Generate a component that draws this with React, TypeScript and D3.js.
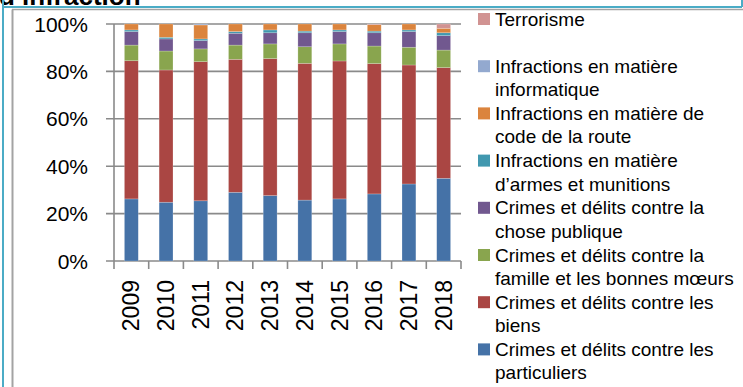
import React from "react";
import * as d3 from "d3";

// Years on the x axis
const years = ["2009", "2010", "2011", "2012", "2013", "2014", "2015", "2016", "2017", "2018"];

// Series names, bottom of the stack first
const seriesNames = [
  "Crimes et délits contre les particuliers",
  "Crimes et délits contre les biens",
  "Crimes et délits contre la famille et les bonnes mœurs",
  "Crimes et délits contre la chose publique",
  "Infractions en matière d’armes et munitions",
  "Infractions en matière de code de la route",
  "Infractions en matière informatique",
  "Terrorisme",
];

// Share of each category per year (%)
const particuliers = [26.2, 24.8, 25.4, 29.0, 27.6, 25.7, 26.2, 28.3, 32.5, 34.9];
const biens = [58.3, 55.8, 58.7, 56.1, 57.8, 57.7, 58.2, 55.0, 50.2, 46.7];
const famille = [6.6, 8.0, 5.4, 6.0, 6.2, 7.0, 7.2, 7.4, 7.5, 7.4];
const chosePublique = [5.7, 5.1, 3.5, 5.0, 4.7, 5.9, 5.2, 5.6, 6.6, 6.1];
const armes = [0.7, 0.7, 0.7, 0.7, 1.2, 0.7, 0.7, 0.7, 0.7, 1.2];
const codeRoute = [2.5, 5.6, 5.9, 3.2, 2.5, 3.0, 2.5, 2.7, 2.5, 1.9];
const informatique = [0, 0, 0.4, 0, 0, 0, 0, 0, 0, 0];
const terrorisme = [0, 0, 0, 0, 0, 0, 0, 0.3, 0, 1.8];

const seriesValues = [particuliers, biens, famille, chosePublique, armes, codeRoute, informatique, terrorisme];

const colors = ["#4572A7", "#AA4643", "#89A54E", "#71588F", "#4198AF", "#DB843D", "#93A9CF", "#D19392"];

// Legend entries, top to bottom, each split into its two lines
const legendLines: string[][] = [
  ["Terrorisme"],
  ["Infractions en matière", "informatique"],
  ["Infractions en matière de", "code de la route"],
  ["Infractions en matière", "d’armes et munitions"],
  ["Crimes et délits contre la", "chose publique"],
  ["Crimes et délits contre la", "famille et les bonnes mœurs"],
  ["Crimes et délits contre les", "biens"],
  ["Crimes et délits contre les", "particuliers"],
];
const legendColors = [...colors].reverse();

const yTicks = [0, 20, 40, 60, 80, 100];

const W = 743;
const H = 387;
const plot = { left: 114, right: 461, top: 24, bottom: 261 };
const font = "'Liberation Sans', Arial, sans-serif";
const gridColor = "#8a8a8a";

export default function App() {
  const table = years.map((y, i) => {
    const row: Record<string, number | string> = { year: y };
    seriesNames.forEach((n, s) => (row[n] = seriesValues[s][i]));
    return row;
  });
  const stacked = d3.stack<Record<string, number | string>>().keys(seriesNames)(table as any);

  const x = d3.scaleBand<string>().domain(years).range([plot.left, plot.right]).paddingInner(0.6).paddingOuter(0.3);
  const y = d3.scaleLinear().domain([0, 100]).range([plot.bottom, plot.top]);
  const step = x.step();
  const boundaries = d3.range(years.length + 1).map((i) => plot.left + i * step);

  return (
    <svg width={W} height={H} style={{ position: "absolute", left: 0, top: 0, background: "#fff" }}>
      {/* title, partly above the frame */}
      <text x={-1} y={5} fontFamily={font} fontSize={26} fontWeight="bold" fill="#000">
        d’infraction
      </text>

      {/* frames */}
      <line x1={3} x2={3} y1={0} y2={H} stroke="#4BACC6" strokeWidth={2} />
      <line x1={3} x2={742} y1={7} y2={7} stroke="#4BACC6" strokeWidth={2} />
      <line x1={742} x2={742} y1={0} y2={7} stroke="#4BACC6" strokeWidth={2} />
      <line x1={12} x2={W} y1={9.5} y2={9.5} stroke="#a3a3a3" strokeWidth={1.5} />
      <line x1={12.5} x2={12.5} y1={9.5} y2={H} stroke="#a3a3a3" strokeWidth={2} />

      {/* gridlines and y labels */}
      {yTicks.map((t) => (
        <g key={t}>
          <line x1={plot.left - 8} x2={plot.right} y1={y(t)} y2={y(t)} stroke={gridColor} strokeWidth={1.6} />
          <text x={88} y={y(t)} dy="0.36em" textAnchor="end" fontFamily={font} fontSize={21} fill="#000">
            {t}%
          </text>
        </g>
      ))}

      {/* axes */}
      <line x1={plot.left} x2={plot.left} y1={plot.top} y2={plot.bottom} stroke={gridColor} strokeWidth={1.6} />
      {boundaries.map((bx, i) => (
        <line key={i} x1={bx} x2={bx} y1={plot.bottom} y2={plot.bottom + 8} stroke={gridColor} strokeWidth={1.6} />
      ))}

      {/* stacked bars */}
      {stacked.map((layer, s) => (
        <g key={layer.key} fill={colors[s]}>
          {layer.map((d, i) =>
            d[1] - d[0] > 0 ? (
              <rect
                key={i}
                x={x(years[i])}
                width={x.bandwidth()}
                y={y(d[1])}
                height={y(d[0]) - y(d[1])}
                stroke="rgba(255,255,255,0.35)"
                strokeWidth={0.6}
              />
            ) : null
          )}
        </g>
      ))}

      {/* year labels */}
      {years.map((yr) => {
        const cx = (x(yr) as number) + x.bandwidth() / 2;
        return (
          <text
            key={yr}
            transform={`translate(${cx + 8},280) rotate(-90)`}
            textAnchor="end"
            fontFamily={font}
            fontSize={23}
            fill="#000"
          >
            {yr}
          </text>
        );
      })}

      {/* legend */}
      {legendLines.map((lines, i) => {
        const top = 13 + i * 47.2;
        return (
          <g key={i}>
            <rect x={478} y={top} width={12} height={12} fill={legendColors[i]} />
            {lines.map((ln, j) => (
              <text key={j} x={495} y={top + 12.5 + j * 23.5} fontFamily={font} fontSize={19} fill="#000">
                {ln}
              </text>
            ))}
          </g>
        );
      })}
    </svg>
  );
}
